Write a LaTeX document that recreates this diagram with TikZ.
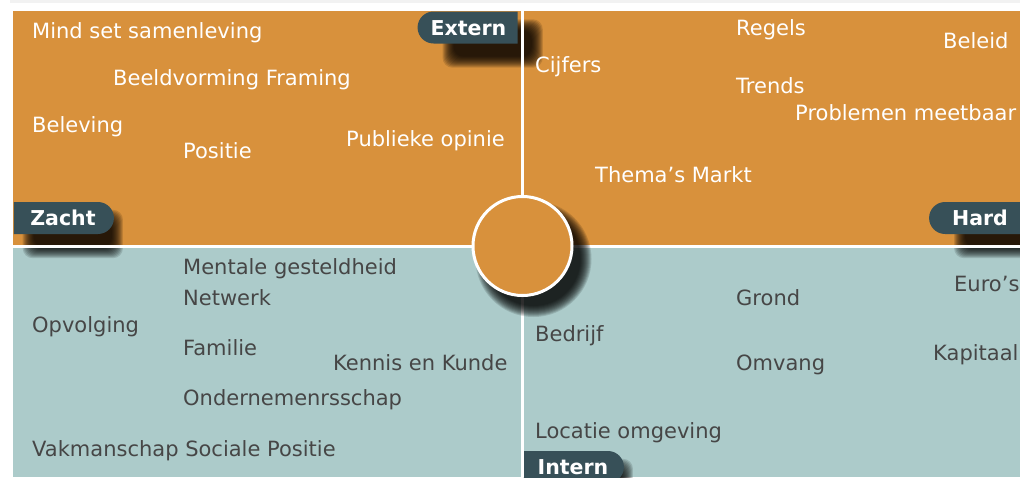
\documentclass[tikz,border=0pt]{standalone}
\usepackage{fontspec}
\setmainfont{DejaVu Sans}
\usepackage{tikz}
\usetikzlibrary{shapes.misc, backgrounds, calc}
\definecolor{quadorange}{RGB}{216,145,60}
\definecolor{quadteal}{RGB}{172,203,202}
\definecolor{tagslate}{RGB}{55,80,88}
\definecolor{labelgray}{RGB}{70,70,70}

\begin{document}
\begin{tikzpicture}[x=1pt, y=-1pt,
  word/.style={anchor=base west, inner sep=0pt, font=\fontsize{21}{25}\selectfont},
  hi/.style={word, white},
  lo/.style={word, labelgray},
  tag/.style={rounded rectangle, fill=tagslate, text=white, inner sep=0pt,
    minimum width=100pt, minimum height=32pt, text height=15pt, text depth=0pt,
    font=\fontsize{20.5}{24}\selectfont\bfseries},
  shade layer/.style={black, opacity=0.13}]
  \useasboundingbox (0,0) rectangle (1020,477);
  % axis tags
  \node[tag, rounded rectangle east arc=none] (extern) at (468.5,27.5) {Extern};
  \node[tag, rounded rectangle west arc=none] (zacht) at (63,218) {Zacht};
  \node[tag, rounded rectangle east arc=none] (hard) at (980,218) {Hard};
  \node[tag, rounded rectangle west arc=none] (intern) at (573,467) {Intern};
  \begin{scope}[on background layer]
    \fill[black!5] (10,0) rectangle (1020,2.5);
    % quadrant panels
    \fill[quadorange] (13,11) rectangle (1020,246.5);
    \fill[quadteal] (13,246.5) rectangle (1020,477);
    % soft shadows under the tags
    \foreach \n in {extern,zacht,hard,intern}
      \foreach \i in {0,...,11}
        \fill[shade layer, rounded corners=10pt]
          ($(\n.north west)+(17-8+\i,16-8+\i)$) rectangle ($(\n.south east)+(17+8-\i,16+8-\i)$);
  \end{scope}
  % dividing lines
  \draw[white, line width=3pt] (522,11) -- (522,477);
  \draw[white, line width=3pt] (13,246.5) -- (1020,246.5);
  % centre disc with its shadow
  \coordinate (mid) at (522.5,246);
  \foreach \i in {0,...,11}
    \fill[shade layer] ($(mid)+(11,13)$) circle ({58-\i});
  \node[circle, fill=quadorange, draw=white, line width=3pt, minimum size=99pt, inner sep=0pt]
    (hub) at (mid) {};
  % extern / zacht
  \node[hi] (mindset) at (32,38) {Mind set samenleving};
  \node[hi] (beeld) at (113,85) {Beeldvorming Framing};
  \node[hi] (beleving) at (32,132) {Beleving};
  \node[hi] (positie) at (183,158) {Positie};
  \node[hi] (opinie) at (346,146) {Publieke opinie};
  % extern / hard
  \node[hi] (regels) at (736,35) {Regels};
  \node[hi] (beleid) at (943,48) {Beleid};
  \node[hi] (cijfers) at (535,72) {Cijfers};
  \node[hi] (trends) at (736,93) {Trends};
  \node[hi] (meetbaar) at (795,120) {Problemen meetbaar};
  \node[hi] (markt) at (595,182) {Thema’s Markt};
  % intern / zacht
  \node[lo] (mentaal) at (183,274) {Mentale gesteldheid};
  \node[lo] (netwerk) at (183,305) {Netwerk};
  \node[lo] (opvolging) at (32,332) {Opvolging};
  \node[lo] (familie) at (183,355) {Familie};
  \node[lo] (kennis) at (333,370) {Kennis en Kunde};
  \node[lo] (onderneming) at (183,405) {Ondernemenrsschap};
  \node[lo] (vakman) at (32,456) {Vakmanschap Sociale Positie};
  % intern / hard
  \node[lo] (grond) at (736,305) {Grond};
  \node[lo] (euros) at (954,291) {Euro’s};
  \node[lo] (bedrijf) at (535,341) {Bedrijf};
  \node[lo] (omvang) at (736,370) {Omvang};
  \node[lo] (kapitaal) at (933,360) {Kapitaal};
  \node[lo] (locatie) at (535,438) {Locatie omgeving};
\end{tikzpicture}
\end{document}
